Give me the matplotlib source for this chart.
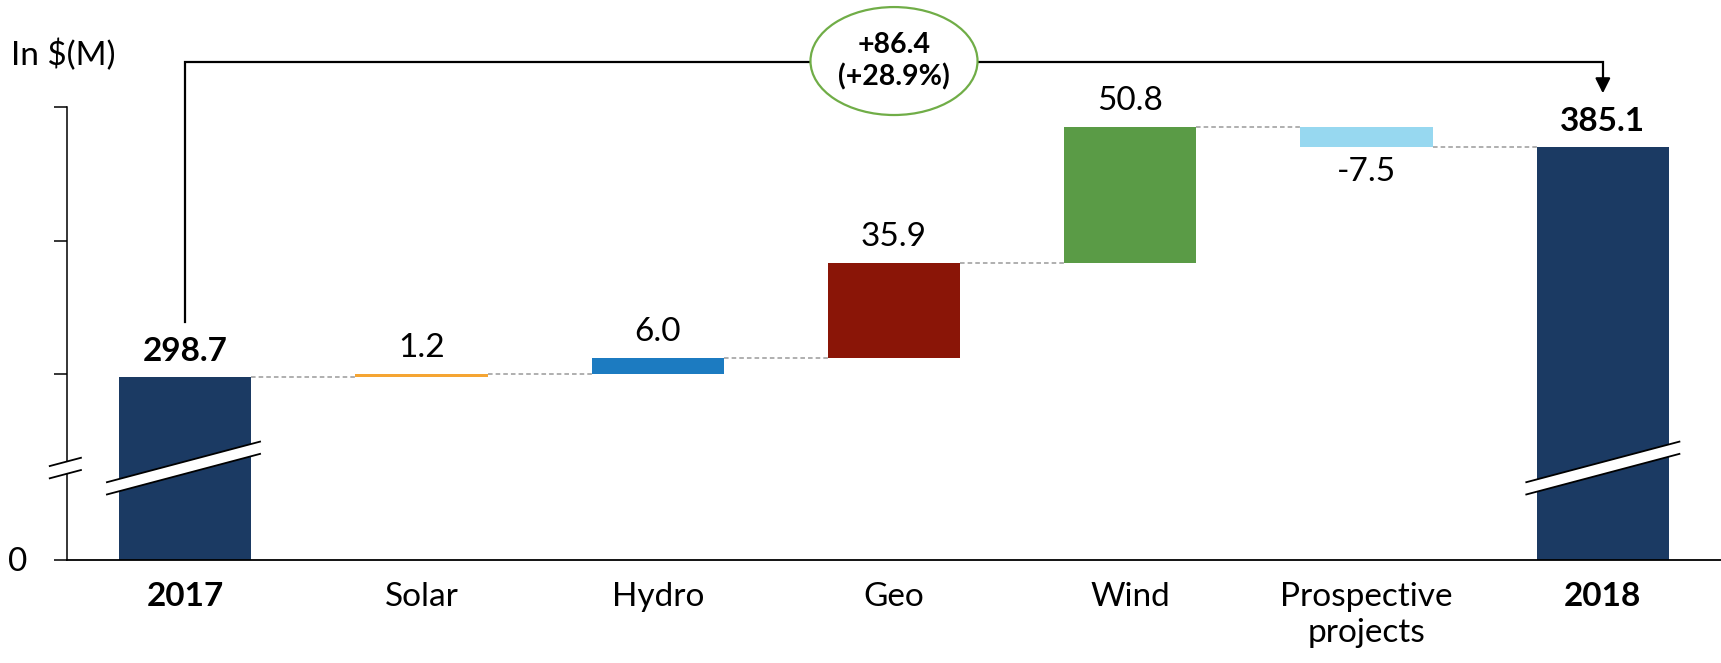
import numpy as np
import matplotlib.pyplot as plt
from matplotlib.patches import Ellipse, Polygon

plt.rcParams['font.family'] = ['Lato', 'DejaVu Sans']

# data
categories = ["2017", "Solar", "Hydro", "Geo", "Wind", "Prospective\nprojects", "2018"]
start_value = 298.7
deltas = [1.2, 6.0, 35.9, 50.8, -7.5]
end_value = 385.1
colors = ["#1b3a63", "#f5a533", "#1c7bc1", "#8a1507", "#5a9b46", "#97d8f0", "#1b3a63"]
change_text = "+86.4\n(+28.9%)"
y_ticks = [300, 350, 400]

# broken axis: the bottom of the axes stands for "0"
floor = 230.2
top = 440.3
bar_w = 0.56

fig = plt.figure(figsize=(17.21, 6.63), dpi=100)
ax = fig.add_axes([67 / 1721, 103 / 663, 1654 / 1721, 560 / 663])
ax.set_xlim(-0.5, 6.5)
ax.set_ylim(floor, top)

x = np.arange(len(categories))
running = np.concatenate([[start_value], start_value + np.cumsum(deltas)])
bottoms = [floor] + list(running[:-1]) + [floor]
heights = [start_value - floor] + deltas + [end_value - floor]
ax.bar(x, heights, bottom=bottoms, width=bar_w, color=colors, zorder=2)

# connectors
levels = list(running)
for i, lv in enumerate(levels):
    ax.plot([x[i] + bar_w / 2, x[i + 1] - bar_w / 2], [lv, lv], color="#9a9a9a",
            lw=1.1, ls=(0, (3, 2)), zorder=1)

# value labels
labels = [f"{start_value:.1f}"] + [f"{d:.1f}" for d in deltas] + [f"{end_value:.1f}"]
tops = [start_value] + [max(b, b + h) for b, h in zip(bottoms[1:-1], heights[1:-1])] + [end_value]
for i, lab in enumerate(labels):
    bold = i in (0, len(labels) - 1)
    if i < len(labels) - 1 and i > 0 and deltas[i - 1] < 0:
        ypos = bottoms[i] + heights[i]
        off = -25
    else:
        ypos = tops[i]
        off = 26
    ax.annotate(lab, (x[i], ypos), xytext=(0, off * 0.72), textcoords="offset points",
                ha="center", va="center", fontsize=24,
                fontweight="bold" if bold else "normal", zorder=4)

# category labels
ax.set_xticks(x)
ax.set_xticklabels(categories, fontsize=24, linespacing=1.25, va="top")
for i, t in enumerate(ax.get_xticklabels()):
    if i in (0, len(categories) - 1):
        t.set_fontweight("bold")
ax.tick_params(axis="x", length=0, pad=16)

# y axis
ax.set_yticks([floor] + y_ticks)
ax.set_yticklabels([])
ax.tick_params(axis="y", direction="out", length=9.5, width=1.1)
for s in ["top", "right"]:
    ax.spines[s].set_visible(False)
ax.spines["left"].set_bounds(floor, y_ticks[-1])
ax.spines["left"].set_linewidth(1.1)
ax.spines["bottom"].set_linewidth(1.3)

fig.text(18 / 1721, 1 - 562 / 663, "0", fontsize=24, ha="center", va="center")
fig.text(11 / 1721, 1 - 55 / 663, "In $(M)", fontsize=24, ha="left", va="center")


# break marks
def draw_break(xc, half, yc=264.7, slope=23.5, gap=2.3):
    xs = np.array([xc - half, xc + half])
    ys = yc + slope * (xs - xc)
    band = Polygon([[xs[0], ys[0] - gap], [xs[1], ys[1] - gap],
                    [xs[1], ys[1] + gap], [xs[0], ys[0] + gap]],
                   closed=True, facecolor="white", edgecolor="none", zorder=5, clip_on=False)
    ax.add_patch(band)
    for g in (-gap, gap):
        ax.plot(xs, ys + g, color="black", lw=1.3, zorder=6, clip_on=False)


draw_break(-0.007, 0.324)
draw_break(6.0, 0.324)
draw_break(-0.507, 0.066)

# total change bracket
bracket_y = 417.2
ax.plot([0, 0, 6, 6], [319.5, bracket_y, bracket_y, 408.5], color="black", lw=1.6,
        zorder=3, clip_on=False, solid_joinstyle="miter")
ax.annotate("", xy=(6, 405.3), xytext=(6, 409.5),
            arrowprops=dict(arrowstyle="-|>,head_length=0.9,head_width=0.45",
                            color="black", lw=1.6, shrinkA=0, shrinkB=0), zorder=3)
ax.add_patch(Ellipse((3.0, 417.4), 0.707, 40.5, facecolor="white", edgecolor="#70ad47",
                     lw=1.6, zorder=4, clip_on=False))
ax.text(3.0, 417.4, change_text, ha="center", va="center", fontsize=20.5,
        fontweight="bold", linespacing=1.25, zorder=5)

fig.savefig("out.png", dpi=100)
